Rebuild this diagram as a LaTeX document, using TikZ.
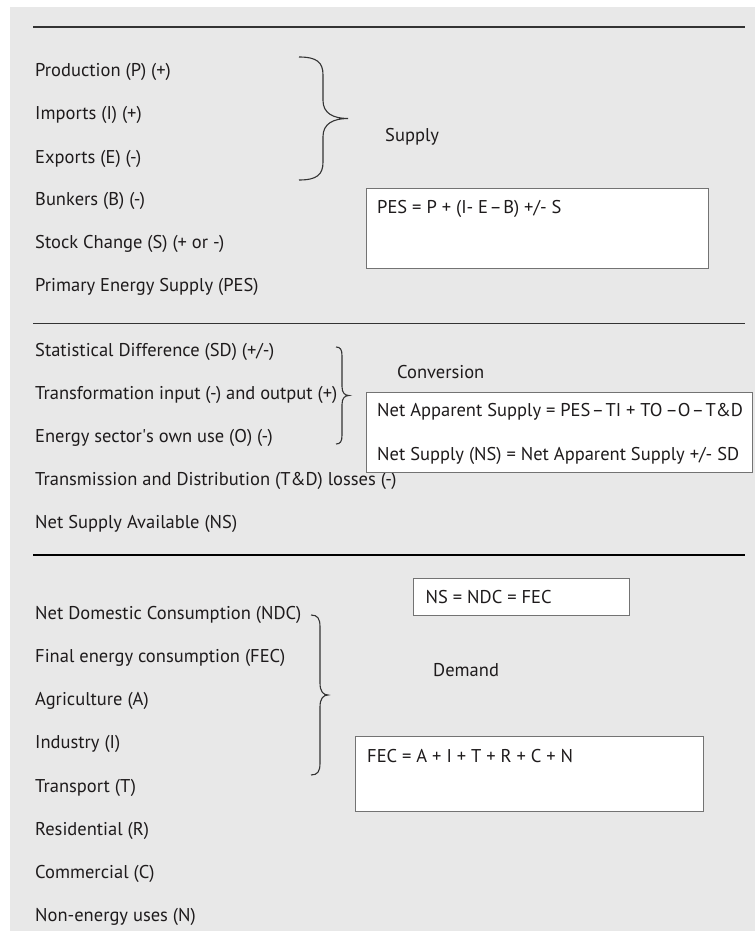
\documentclass[tikz,border=0pt]{standalone}
\usepackage{fontspec}
\setmainfont{PT Sans}
\usetikzlibrary{decorations.pathreplacing}
\definecolor{panelgray}{RGB}{232,232,232}
\definecolor{inkgray}{RGB}{30,27,28}

% tight en dash for the formulas
\newcommand{\tdash}{\hspace{0.08em}–\hspace{0.08em}}
% right-hand curly brace: ends x, spine x, tip x, top y, bottom y, curl
\newcommand{\sidebrace}[6]{%
  \draw[bracepen] (#1,#4) .. controls ({#2-0.25*(#2-#1)},#4) and (#2,{#4+0.3*#6}) .. (#2,#4+#6)
    -- (#2,{(#4+#5)/2-#6}) .. controls (#2,{(#4+#5)/2-0.3*#6}) and ({#2+0.4*(#3-#2)},{(#4+#5)/2}) .. (#3,{(#4+#5)/2})
    .. controls ({#2+0.4*(#3-#2)},{(#4+#5)/2}) and (#2,{(#4+#5)/2+0.3*#6}) .. (#2,{(#4+#5)/2+#6})
    -- (#2,#5-#6) .. controls (#2,{#5-0.3*#6}) and ({#2-0.25*(#2-#1)},#5) .. (#1,#5);}

\begin{document}
\begin{tikzpicture}[x=1pt, y=-1pt,
  every node/.style={font=\fontsize{18.5}{22}\selectfont, text=inkgray, inner sep=0pt},
  item/.style={anchor=base west},
  formula/.style={draw=black!55, fill=white, line width=0.9pt, anchor=north west},
  rule/.style={draw=black!80, line width=1.2pt},
  bracepen/.style={draw=black!80, line width=1.1pt}]

  \useasboundingbox (0,0) rectangle (755,931);
  \fill[panelgray] (10,7) rectangle (755,931);

  %% Supply
  \draw[rule] (33,27) -- (745,27);
  \node[item] (prod) at (35,76.7) {Production (P) (+)};
  \node[item] (imp) at (35,120) {Imports (I) (+)};
  \node[item] (exp) at (35,163) {Exports (E) (-)};
  \node[item] (bunk) at (35,205.5) {Bunkers (B) (-)};
  \node[item] (stock) at (35,248.5) {Stock Change (S) (+ or -)};
  \node[item] (pes) at (35,291.5) {Primary Energy Supply (PES)};

  % brace and formula
  \sidebrace{299}{323}{348}{57}{180}{18}
  \node[item] (supply) at (385,141.5) {Supply};
  \node[formula, minimum width=342, minimum height=80] (pesbox) at (366,188) {};
  \node[item] (peseq) at (377,213) {PES = P + (I- E\tdash B) +/- S};

  %% Conversion
  \draw[rule] (33,323.5) -- (745,323.5);
  \node[item] (sd) at (35,356.5) {Statistical Difference (SD) (+/-)};
  \node[item] (trans) at (35,399.5) {Transformation input (-) and output (+)};
  \node[item] (own) at (35,442.5) {Energy sector\textquotesingle s own use (O) (-)};
  \node[item] (td) at (35,485.5) {Transmission and Distribution (T\&D) losses (-)};
  \node[item] (nsa) at (35,528.5) {Net Supply Available (NS)};

  % brace and formulas
  \sidebrace{336}{342}{349}{347}{444}{9}
  \node[item] (conv) at (397,378) {Conversion};
  \node[formula, minimum width=386, minimum height=80] (convbox) at (366,392) {};
  \node[item] (naseq) at (377,416.5) {Net Apparent Supply = PES\tdash TI + TO \hspace{-0.1em}–O\tdash T\&D};
  \node[item] (nseq) at (377,460) {Net Supply (NS) = Net Apparent Supply +/- SD};

  %% Demand
  \draw[rule, draw=black, line width=2.4pt] (33,555) -- (745,555);
  \node[item] (ndc) at (35,619) {Net Domestic Consumption (NDC)};
  \node[item] (fec) at (35,662) {Final energy consumption (FEC)};
  \node[item] (agri) at (35,705.5) {Agriculture (A)};
  \node[item] (ind) at (35,748.5) {Industry (I)};
  \node[item] (tra) at (35,792) {Transport (T)};
  \node[item] (res) at (35,835) {Residential (R)};
  \node[item] (com) at (35,878) {Commercial (C)};
  \node[item] (non) at (35,921.5) {Non-energy uses (N)};

  % brace and formulas
  \node[formula, minimum width=216, minimum height=37] (nsbox) at (413,578) {};
  \node[item] (nseqfec) at (425.5,603) {NS = NDC = FEC};
  \sidebrace{311}{320}{328}{615}{775}{12}
  \node[item] (demand) at (433,676) {Demand};
  \node[formula, minimum width=348, minimum height=75] (fecbox) at (355,736) {};
  \node[item] (feceq) at (367,762) {FEC = A + I + T + R + C + N};

\end{tikzpicture}
\end{document}
